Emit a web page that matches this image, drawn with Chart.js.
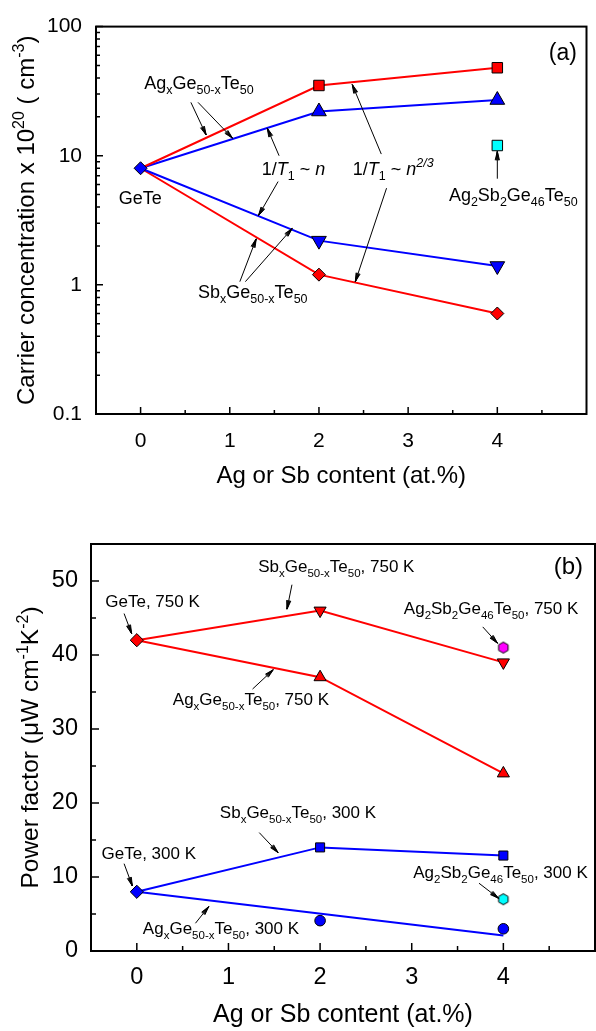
<!DOCTYPE html>
<html>
<head>
<meta charset="utf-8">
<script src="https://cdn.jsdelivr.net/npm/chart.js@4.4.1/dist/chart.umd.min.js"></script>
<style>
html, body { margin: 0; padding: 0; background: #fff; overflow: hidden; width: 596px; height: 1031px; }
canvas { position: absolute; left: 0; }
#chartA { top: 0; }
#chartB { top: 500px; }
</style>
</head>
<body>
<canvas id="chartA" width="596" height="500"></canvas>
<canvas id="chartB" width="603" height="531"></canvas>
<script>
// Ag or Sb content (at.%)
var content = [0, 2, 4];

// (a) carrier concentration, x 10^20 cm^-3
var nAgRed = [8, 35, 48];
var nAgBlue = [8, 22, 27];
var nSbBlue = [8, 2.2, 1.4];
var nSbRed = [8, 1.2, 0.6];
var nGeTe = [8];          // x = 0
var nAgSb = [12];         // Ag2Sb2Ge46Te50, x = 4

// (b) power factor, uW cm^-1 K^-2
var pfGeTe750 = [42];     // x = 0
var pfSb750 = [42, 46, 39];
var pfAg750 = [42, 37, 24];
var pfAgSb750 = [41];     // x = 4
var pfGeTe300 = [8];      // x = 0
var pfSb300 = [8, 14, 12.9];
var pfAg300Line = [8, 2.1];   // x = 0 and 4
var pfAg300 = [4.1, 3.0];     // x = 2 and 4
var pfAgSb300 = [7];      // x = 4

var xTicks = [0, 1, 2, 3, 4];
var yTicksA = [0.1, 1, 10, 100];
var yTicksB = [0, 10, 20, 30, 40, 50];

var FONT = '"Liberation Sans", Arial, sans-serif';
var RED = '#ff0000', BLUE = '#0000ff';

function pts(xs, ys) {
    return ys.map(function (y, i) { return { x: xs[i], y: y }; });
}

function series(xs, ys, color, style, r, rot) {
    return {
        data: pts(xs, ys), borderColor: color, borderWidth: 2, tension: 0, fill: false,
        pointBackgroundColor: color, pointBorderColor: '#000', pointBorderWidth: 1,
        pointStyle: style, pointRadius: [0, r, r], pointRotation: rot || 0
    };
}

function marker(xs, ys, color, style, r) {
    return {
        data: pts(xs, ys), showLine: false, pointBackgroundColor: color, pointBorderColor: '#000',
        pointBorderWidth: 1, pointStyle: style, pointRadius: r
    };
}

function hexagon(color, r) {
    var c = document.createElement('canvas');
    var s = Math.ceil(2 * r + 3);
    c.width = s; c.height = s;
    var g = c.getContext('2d');
    g.beginPath();
    for (var i = 0; i < 6; i++) {
        var t = -Math.PI / 2 + i * Math.PI / 3;
        g.lineTo(s / 2 + r * Math.cos(t), s / 2 + r * Math.sin(t));
    }
    g.closePath();
    g.fillStyle = color; g.fill();
    g.strokeStyle = '#000'; g.lineWidth = 1; g.stroke();
    return c;
}

// rich text: kinds '' normal, 'i' italic, 'b' subscript, 'p' superscript, 'pi' italic superscript
function drawRich(ctx, parts, x, y, size, small, align) {
    function font(k) {
        var it = k && k.indexOf('i') >= 0 ? 'italic ' : '';
        var sz = k && (k.indexOf('b') >= 0 || k.indexOf('p') >= 0) ? small : size;
        return it + sz + 'px ' + FONT;
    }
    var w = 0;
    parts.forEach(function (p) { ctx.font = font(p[1]); w += ctx.measureText(p[0]).width; });
    var cx = align === 'center' ? x - w / 2 : (align === 'right' ? x - w : x);
    ctx.textAlign = 'left';
    ctx.textBaseline = 'alphabetic';
    parts.forEach(function (p) {
        var k = p[1] || '';
        var dy = k.indexOf('b') >= 0 ? size * 0.3 : (k.indexOf('p') >= 0 ? -size * 0.42 : 0);
        ctx.font = font(k);
        ctx.fillText(p[0], cx, y + dy);
        cx += ctx.measureText(p[0]).width;
    });
}

function arrow(ctx, x1, y1, x2, y2) {
    var ang = Math.atan2(y2 - y1, x2 - x1), L = 9;
    ctx.beginPath();
    ctx.moveTo(x1, y1); ctx.lineTo(x2, y2);
    [0.24, -0.24, 0.16, -0.16, 0.08, -0.08].forEach(function (d) {
        ctx.moveTo(x2, y2);
        ctx.lineTo(x2 - L * Math.cos(ang + d), y2 - L * Math.sin(ang + d));
    });
    ctx.stroke();
}

var AgGeTe = [['Ag'], ['x', 'b'], ['Ge'], ['50-x', 'b'], ['Te'], ['50', 'b']];
var SbGeTe = [['Sb'], ['x', 'b'], ['Ge'], ['50-x', 'b'], ['Te'], ['50', 'b']];
var AgSbGeTe = [['Ag'], ['2', 'b'], ['Sb'], ['2', 'b'], ['Ge'], ['46', 'b'], ['Te'], ['50', 'b']];

// annotation positions in data units
var notesA = {
    size: 18, small: 12.5,
    labels: [
        { x: 0.04, y: 33.1, parts: AgGeTe },
        { x: -0.246, y: 4.24, parts: [['GeTe']] },
        { x: 1.358, y: 7.11, parts: [['1/'], ['T', 'i'], ['1', 'b'], [' ~ '], ['n', 'i']] },
        { x: 2.38, y: 7.11, parts: [['1/'], ['T', 'i'], ['1', 'b'], [' ~ '], ['n', 'i'], ['2/3', 'pi']] },
        { x: 0.644, y: 0.793, parts: SbGeTe },
        { x: 3.457, y: 4.47, parts: AgSbGeTe }
    ],
    arrows: [
        [0.564, 25.9, 0.735, 14.5], [0.644, 25.9, 1.029, 13.7],
        [1.553, 10, 1.421, 16.3], [1.542, 6.31, 1.322, 3.44],
        [1.113, 1.059, 1.296, 2.27], [1.175, 1.059, 1.699, 2.73],
        [2.699, 10.3, 2.374, 35.5], [2.758, 5.61, 2.408, 1.059],
        [4, 6.64, 4, 10.8]
    ],
    corner: { x: 4.893, y: 55.6, text: '(a)', size: 23 },
    tick: [7, 4]
};

var notesB = {
    size: 17, small: 11.5,
    labels: [
        { x: 1.325, y: 51.2, parts: SbGeTe.concat([[', 750 K']]) },
        { x: -0.344, y: 46.5, parts: [['GeTe, 750 K']] },
        { x: 2.914, y: 45.5, parts: AgSbGeTe.concat([[', 750 K']]) },
        { x: 0.393, y: 33.3, parts: AgGeTe.concat([[', 750 K']]) },
        { x: 0.906, y: 17.96, parts: SbGeTe.concat([[', 300 K']]) },
        { x: -0.385, y: 12.5, parts: [['GeTe, 300 K']] },
        { x: 3.017, y: 9.84, parts: AgSbGeTe.concat([[', 300 K']]) },
        { x: 0.066, y: 2.26, parts: AgGeTe.concat([[', 300 K']]) }
    ],
    arrows: [
        [1.693, 49.5, 1.639, 46.2], [-0.139, 45.6, -0.057, 42.9],
        [3.775, 43.8, 3.935, 41.6], [1.263, 35.4, 1.488, 38.0],
        [1.336, 16.0, 1.541, 13.3], [-0.139, 11.8, -0.049, 8.8],
        [3.734, 9.16, 3.947, 7.13], [0.64, 3.75, 0.784, 5.99]
    ],
    corner: { x: 4.87, y: 50.9, text: '(b)', size: 24 },
    tick: [8, 5]
};

function decor(notes, minorX, minorY, titles) {
    return {
        id: 'decor',
        afterDatasetsDraw: function (chart) {
            var ctx = chart.ctx, a = chart.chartArea;
            var xs = chart.scales.x, ys = chart.scales.y;
            var big = notes.tick[0], sm = notes.tick[1];
            ctx.save();
            ctx.strokeStyle = '#000';
            ctx.fillStyle = '#000';
            // frame
            ctx.lineWidth = 2;
            ctx.strokeRect(a.left, a.top, a.right - a.left, a.bottom - a.top);
            // inward ticks
            ctx.lineWidth = 1.5;
            ctx.beginPath();
            xTicks.forEach(function (v) { var p = xs.getPixelForValue(v); ctx.moveTo(p, a.bottom); ctx.lineTo(p, a.bottom - big); });
            minorX.forEach(function (v) { var p = xs.getPixelForValue(v); ctx.moveTo(p, a.bottom); ctx.lineTo(p, a.bottom - sm); });
            ys.ticks.forEach(function (t) { var p = ys.getPixelForValue(t.value); ctx.moveTo(a.left, p); ctx.lineTo(a.left + big, p); });
            minorY.forEach(function (v) { var p = ys.getPixelForValue(v); ctx.moveTo(a.left, p); ctx.lineTo(a.left + sm, p); });
            ctx.stroke();
            // annotations
            ctx.lineWidth = 1;
            notes.arrows.forEach(function (r) {
                arrow(ctx, xs.getPixelForValue(r[0]), ys.getPixelForValue(r[1]),
                    xs.getPixelForValue(r[2]), ys.getPixelForValue(r[3]));
            });
            notes.labels.forEach(function (l) {
                drawRich(ctx, l.parts, xs.getPixelForValue(l.x), ys.getPixelForValue(l.y), notes.size, notes.small, 'left');
            });
            var c = notes.corner;
            drawRich(ctx, [[c.text]], xs.getPixelForValue(c.x), ys.getPixelForValue(c.y), c.size, c.size, 'right');
            // axis titles
            drawRich(ctx, titles.x.parts, (a.left + Math.min(a.right, 601)) / 2, titles.x.y, titles.x.size, titles.x.size, 'center');
            ctx.translate(titles.y.x, (a.top + a.bottom) / 2);
            ctx.rotate(-Math.PI / 2);
            drawRich(ctx, titles.y.parts, 0, 0, titles.y.size, titles.y.small, 'center');
            ctx.restore();
        }
    };
}

function axes(yType, yMin, yMax, yTicks, yWidth, xHeight, tickSize, xPad, yPad) {
    return {
        x: {
            type: 'linear', min: -0.5, max: 5,
            afterFit: function (s) { s.height = xHeight; },
            afterBuildTicks: function (s) { s.ticks = xTicks.map(function (v) { return { value: v }; }); },
            grid: { display: false, drawTicks: false }, border: { display: false },
            ticks: { font: { family: FONT, size: tickSize }, color: '#000', padding: xPad, autoSkip: false, maxRotation: 0 }
        },
        y: {
            type: yType, min: yMin, max: yMax,
            afterFit: function (s) { s.width = yWidth; },
            afterBuildTicks: function (s) { s.ticks = yTicks.map(function (v) { return { value: v }; }); },
            grid: { display: false, drawTicks: false }, border: { display: false },
            ticks: { font: { family: FONT, size: tickSize }, color: '#000', padding: yPad, autoSkip: false,
                callback: function (v) { return String(v); } }
        }
    };
}

var halfSteps = [0.5, 1.5, 2.5, 3.5, 4.5];
var logMinor = [];
[0.1, 1, 10].forEach(function (d) { for (var k = 2; k <= 9; k++) logMinor.push(+(k * d).toFixed(2)); });

document.addEventListener("DOMContentLoaded", function () {
    // (a) carrier concentration
    var ctxA = document.getElementById("chartA");
    if (ctxA) {
        new Chart(ctxA, {
            type: 'line',
            data: {
                datasets: [
                    marker([0], nGeTe, BLUE, 'rectRot', 6.5),
                    marker([4], nAgSb, '#00ffff', 'rect', 7.4),
                    series(content, nAgRed, RED, 'rect', 7.4),
                    series(content, nAgBlue, BLUE, 'triangle', 8.5),
                    series(content, nSbBlue, BLUE, 'triangle', 8.5, 180),
                    series(content, nSbRed, RED, 'rectRot', 6.5)
                ]
            },
            options: {
                responsive: false, animation: false, devicePixelRatio: 1,
                layout: { padding: { top: 15, right: 1, left: 0, bottom: 0 } },
                plugins: { legend: { display: false }, tooltip: { enabled: false } },
                scales: axes('logarithmic', 0.1, 100, yTicksA, 96, 86, 21, 14.4, 14)
            },
            plugins: [decor(notesA, halfSteps, logMinor, {
                x: { parts: [['Ag or Sb content (at.%)']], y: 483, size: 24 },
                y: { parts: [['Carrier concentration x 10'], ['20', 'p'], [' ( cm'], ['-3', 'p'], [')']], x: 34, size: 24, small: 16 }
            })]
        });
    }

    // (b) power factor
    var ctxB = document.getElementById("chartB");
    if (ctxB) {
        new Chart(ctxB, {
            type: 'line',
            data: {
                datasets: [
                    marker([0], pfGeTe750, RED, 'rectRot', 6.6),
                    marker([0], pfGeTe300, BLUE, 'rectRot', 6.6),
                    marker([4], pfAgSb750, null, hexagon('#ff00ff', 5.5), 5.5),
                    marker([4], pfAgSb300, null, hexagon('#00ffff', 5.5), 5.5),
                    series(content, pfSb750, RED, 'triangle', 7, 180),
                    series(content, pfAg750, RED, 'triangle', 7),
                    series(content, pfSb300, BLUE, 'rect', 6.4),
                    Object.assign(series([0, 4], pfAg300Line, BLUE, 'circle', 0), { pointRadius: 0 }),
                    marker([2, 4], pfAg300, BLUE, 'circle', 5.3)
                ]
            },
            options: {
                responsive: false, animation: false, devicePixelRatio: 1,
                layout: { padding: { top: 44, right: 1.5, left: 0, bottom: 0 } },
                plugins: { legend: { display: false }, tooltip: { enabled: false } },
                scales: axes('linear', 0, 55, yTicksB, 91, 80, 23.5, 12.6, 13)
            },
            plugins: [decor(notesB, halfSteps, [5, 15, 25, 35, 45], {
                x: { parts: [['Ag or Sb content (at.%)']], y: 521.5, size: 25 },
                y: { parts: [['Power factor (\u03bcW cm'], ['-1', 'p'], ['K'], ['-2', 'p'], [')']], x: 38, size: 24.5, small: 16 }
            })]
        });
    }
});
</script>
</body>
</html>
